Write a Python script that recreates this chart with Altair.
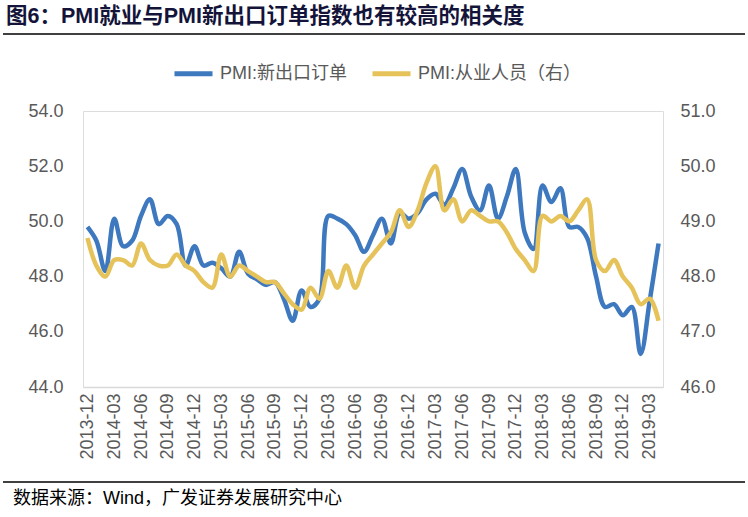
import altair as alt
import pandas as pd

# ---- data -------------------------------------------------------------
months = []
for y in range(2013, 2020):
    for m in range(1, 13):
        key = f"{y}-{m:02d}"
        if "2013-12" <= key <= "2019-04":
            months.append(key)

export_orders = [
    49.8, 49.3, 48.2, 50.1, 49.1, 49.3, 50.2, 50.8, 49.9, 50.2,
    49.9, 48.4, 49.1, 48.4, 48.5, 48.3, 48.0, 48.9, 48.1, 47.9,
    47.7, 47.8, 47.2, 46.4, 47.5, 46.9, 47.2, 50.2, 50.1, 49.9,
    49.5, 48.9, 49.5, 50.1, 49.2, 50.3, 50.1, 50.3, 50.8, 51.0,
    50.6, 51.2, 51.9, 50.9, 50.4, 51.3, 50.1, 50.9, 51.9, 49.6,
    49.0, 51.3, 50.7, 51.2, 49.8, 49.8, 49.4, 48.0, 46.9, 47.0,
    46.6, 46.9, 45.2, 47.1, 49.2,
]
employment = [
    48.7, 48.2, 48.0, 48.3, 48.3, 48.2, 48.6, 48.3, 48.2, 48.2,
    48.4, 48.2, 48.1, 47.9, 47.8, 48.4, 48.0, 48.2, 48.1, 48.0,
    47.9, 47.9, 47.7, 47.5, 47.4, 47.8, 47.6, 48.1, 47.8, 48.2,
    47.8, 48.2, 48.4, 48.6, 48.8, 49.2, 48.9, 49.2, 49.7, 50.0,
    49.2, 49.4, 49.0, 49.2, 49.1, 49.0, 49.0, 48.8, 48.5, 48.3,
    48.1, 49.1, 49.0, 49.1, 49.0, 49.2, 49.4, 48.3, 48.1, 48.3,
    48.0, 47.8, 47.5, 47.6, 47.2,
]
series_names = ["PMI:新出口订单", "PMI:从业人员（右）"]
left_ticks = [44, 46, 48, 50, 52, 54]
right_ticks = [46, 47, 48, 49, 50, 51]
title_text = "图6：PMI就业与PMI新出口订单指数也有较高的相关度"
source_text = "数据来源：Wind，广发证券发展研究中心"

df = pd.DataFrame({"month": months, "export": export_orders, "employ": employment})

FONT = "Liberation Sans, Arial, Noto Sans CJK SC"
BLUE = "#3E78BF"
GOLD = "#E6C35A"
GREY = "#595959"

x_enc = alt.X(
    "month:O", sort=None, title=None,
    scale=alt.Scale(type="point", padding=0.5),
    axis=alt.Axis(
        values=[months[i] for i in range(0, len(months), 3)],
        labelAngle=270, ticks=False, domainColor="#d9d9d9", domainWidth=1.5,
        labelFont=FONT, labelFontSize=18, labelColor=GREY, labelPadding=6,
        grid=False,
    ),
)

color_scale = alt.Scale(domain=series_names, range=[BLUE, GOLD])
legend = alt.Legend(title=None, orient="none", direction="horizontal",
                    legendX=89, legendY=-59, symbolType="stroke",
                    symbolSize=1444, symbolStrokeWidth=5,
                    labelFont=FONT, labelFontSize=18, labelLimit=0,
                    labelColor=GREY, labelOffset=5,
                    columnPadding=14, padding=0)

left = alt.Chart(df).transform_calculate(
    series=f"'{series_names[0]}'"
).mark_line(strokeWidth=4.5, interpolate="catmull-rom").encode(
    x=x_enc,
    y=alt.Y("export:Q", title=None,
            scale=alt.Scale(domain=[44, 54], nice=False, zero=False),
            axis=alt.Axis(values=left_ticks, format=".1f", domain=False, ticks=False,
                          grid=False, labelFont=FONT, labelFontSize=18,
                          labelColor=GREY, labelPadding=20)),
    color=alt.Color("series:N", scale=color_scale, legend=legend),
)

right = alt.Chart(df).transform_calculate(
    series=f"'{series_names[1]}'"
).mark_line(strokeWidth=4.5, interpolate="catmull-rom").encode(
    x=x_enc,
    y=alt.Y("employ:Q", title=None,
            scale=alt.Scale(domain=[46, 51], nice=False, zero=False),
            axis=alt.Axis(orient="right", values=right_ticks, format=".1f",
                          domain=False, ticks=False, grid=False, labelFont=FONT,
                          labelFontSize=18, labelColor=GREY, labelPadding=17)),
    color=alt.Color("series:N", scale=color_scale, legend=legend),
)

title = alt.Chart(pd.DataFrame({"t": [title_text]})).mark_text(
    align="left", baseline="middle", font=FONT, fontSize=21.5, fontWeight="bold",
    color="#14143a",
).encode(x=alt.value(-77), y=alt.value(-94), text="t:N")

source = alt.Chart(pd.DataFrame({"t": [source_text]})).mark_text(
    align="left", baseline="middle", font=FONT, fontSize=18, color="#000000",
).encode(x=alt.value(-70), y=alt.value(388), text="t:N")

top_rule = alt.Chart(pd.DataFrame({"a": [0]})).mark_rule(color="#000000", strokeWidth=1.3).encode(
    x=alt.value(-80), x2=alt.value(662), y=alt.value(-77))
bottom_rule = alt.Chart(pd.DataFrame({"a": [0]})).mark_rule(color="#000000", strokeWidth=1.3).encode(
    x=alt.value(-80), x2=alt.value(662), y=alt.value(371))

chart = alt.layer(left, right, title, source, top_rule, bottom_rule).resolve_scale(
    y="independent"
).properties(
    width=580, height=276,
    autosize=alt.AutoSizeParams(type="none"),
    padding={"left": 83, "top": 111, "right": 85, "bottom": 130},
).configure_view(stroke=None).configure(background="white")

chart.save("out.html", embed_options={"renderer": "svg", "actions": False})
